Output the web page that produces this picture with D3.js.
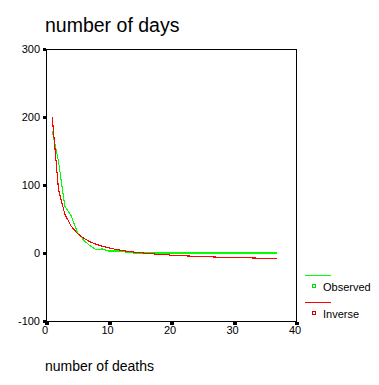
<!DOCTYPE html>
<html>
<head>
<meta charset="utf-8">
<script src="https://cdn.jsdelivr.net/npm/d3@7"></script>
<style>
  html, body { margin: 0; padding: 0; background: #fff; }
  svg { display: block; font-family: "Liberation Sans", Arial, sans-serif; }
</style>
</head>
<body>
<svg id="chart" width="379" height="385"></svg>
<script>
// ---- data ----
const deaths = [1,2,3,4,5,6,7,8,9,10,11,12,13,14,15,16,17,18,19,20,21,22,23,24,25,26,27,28,29,30,31,32,33,34,35,36,37];
const observed = [180,135,69,55,31,19,11,5,6,3,3,3,0.5,0,0,0,0,0,0,0,0,0,0,0,0,0,0,0,0,0,0,0,0,0,0,0,0];
const inverse = [200,93,57.5,39.7,29,21.8,16.7,12.9,10,7.6,5.6,4,2.6,1.5,0.5,-0.4,-1.2,-1.9,-2.5,-3.1,-3.6,-4.1,-4.5,-4.9,-5.3,-5.6,-5.9,-6.2,-6.4,-6.7,-6.9,-7.1,-7.3,-7.5,-7.7,-7.9,-8];
const xTicks = [0,10,20,30,40];
const yTicks = [-100,0,100,200,300];
const seriesNames = ["Observed","Inverse"];
const lineColors = ["#00ff00","#ff0000"];
const markerColors = ["#00e000","#c80000"];
const titleText = "number of days";
const xLabelText = "number of deaths";

const svg = d3.select("#chart");
const x = d3.scaleLinear().domain([0,40]).range([46,296]);
const y = d3.scaleLinear().domain([-100,300]).range([321,49]);

// frame
svg.append("rect")
  .attr("x", x(0)).attr("y", y(300))
  .attr("width", x(40) - x(0)).attr("height", y(-100) - y(300))
  .attr("fill", "none").attr("stroke", "#000").attr("stroke-width", 1)
  .attr("shape-rendering", "crispEdges")
  .attr("transform", "translate(0.5,0.5)");

// y ticks (small squares) and labels
const yAxis = svg.append("g");
yTicks.forEach(t => {
  yAxis.append("rect").attr("x", x(0) - 3).attr("y", Math.round(y(t)) - 1)
    .attr("width", 3).attr("height", 3).attr("fill", "#000")
    .attr("shape-rendering", "crispEdges");
  yAxis.append("text").attr("x", 40).attr("y", y(t) + 4)
    .attr("text-anchor", "end").attr("font-size", 11).text(t);
});

// x ticks and labels
const xAxis = svg.append("g");
xTicks.forEach(t => {
  xAxis.append("rect").attr("x", Math.round(x(t)) - 1).attr("y", y(-100) + 1)
    .attr("width", 4).attr("height", 3).attr("fill", "#000")
    .attr("shape-rendering", "crispEdges");
  xAxis.append("text").attr("x", x(t) - 1).attr("y", 334)
    .attr("text-anchor", "middle").attr("font-size", 11).text(t);
});

// lines
const line = d3.line().x((d, i) => x(deaths[i])).y(d => y(d));
[observed, inverse].forEach((s, k) => {
  svg.append("path").datum(s)
    .attr("d", line)
    .attr("fill", "none").attr("stroke", lineColors[k]).attr("stroke-width", 1.1)
    .attr("shape-rendering", "crispEdges");
});

// title and axis label
svg.append("text").attr("x", 45).attr("y", 31.5)
  .attr("font-size", 19.5).text(titleText);
svg.append("text").attr("x", 45).attr("y", 371)
  .attr("font-size", 14).text(xLabelText);

// legend
const legend = svg.append("g");
seriesNames.forEach((name, k) => {
  const ly = 275 + k * 27.3;
  legend.append("line").attr("x1", 305).attr("x2", 331)
    .attr("y1", ly + 0.5).attr("y2", ly + 0.5)
    .attr("stroke", lineColors[k]).attr("stroke-width", 1)
    .attr("shape-rendering", "crispEdges");
  legend.append("rect").attr("x", 312.5).attr("y", ly + 9.5)
    .attr("width", 3).attr("height", 3)
    .attr("fill", "#fff").attr("stroke", markerColors[k]).attr("stroke-width", 1)
    .attr("shape-rendering", "crispEdges");
  legend.append("text").attr("x", 323).attr("y", ly + 15.5)
    .attr("font-size", 11).text(name);
});
</script>
</body>
</html>
